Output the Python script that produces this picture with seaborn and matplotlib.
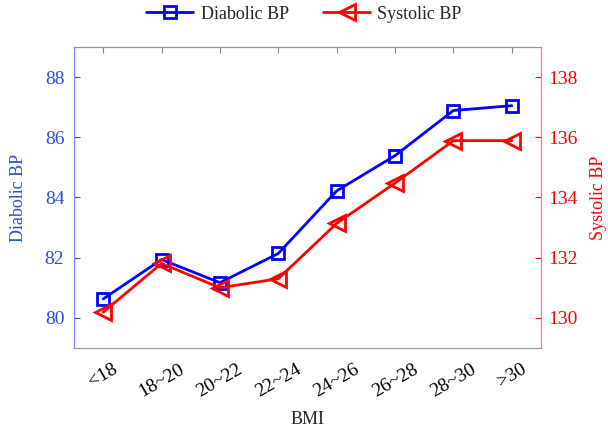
import pandas as pd
import matplotlib
matplotlib.use("Agg")
import matplotlib.pyplot as plt
import seaborn as sns

bmi = ["<18", "18~20", "20~22", "22~24", "24~26", "26~28", "28~30", ">30"]
diabolic = [80.63, 81.94, 81.17, 82.14, 84.22, 85.39, 86.89, 87.05]
systolic = [130.19, 131.81, 131.00, 131.30, 133.14, 134.48, 135.89, 135.89]

sns.set_style("white")
plt.rcParams['font.family'] = ['Liberation Serif', 'DejaVu Serif']

df = pd.DataFrame({"pos": range(len(bmi)), "dia": diabolic, "sys": systolic})

fig = plt.figure(figsize=(6.08, 4.30), dpi=100)
ax = fig.add_axes([0.1217, 0.1907, 0.768, 0.70])
ax2 = ax.twinx()

sns.lineplot(data=df, x="pos", y="dia", ax=ax, color="blue", marker="s",
             markersize=8, markerfacecolor="none", markeredgecolor="blue",
             markeredgewidth=2, linewidth=2, label="Diabolic BP", legend=False)
sns.lineplot(data=df, x="pos", y="sys", ax=ax2, color="red", marker="<",
             markersize=11, markerfacecolor="none", markeredgecolor="red",
             markeredgewidth=2, linewidth=2, label="Systolic BP", legend=False)

ax.set_xlim(-0.5, 7.5)
ax.set_ylim(79, 89)
ax2.set_ylim(129, 139)
ax.set_xticks(range(len(bmi)))
ax.set_xticklabels(bmi, rotation=30, ha="center", fontsize=14)
ax.set_yticks([80, 82, 84, 86, 88])
ax2.set_yticks([130, 132, 134, 136, 138])

ax.set_xlabel("BMI", fontsize=13, labelpad=8)
ax.set_ylabel("Diabolic BP", fontsize=13, color="#2a4de0", labelpad=13)
ax2.set_ylabel("Systolic BP", fontsize=13, color="red", labelpad=9)

ax.tick_params(axis="y", direction="in", colors="#2a4de0", labelsize=14,
               length=4, pad=7)
ax.tick_params(axis="x", direction="in", colors="#888888", labelcolor="black",
               top=True, length=4, pad=9)
ax2.tick_params(axis="y", direction="in", colors="red", labelsize=14,
                length=4, pad=5)

for a in (ax, ax2):
    a.spines["top"].set_color("#999999")
    a.spines["bottom"].set_color("#999999")
    a.spines["left"].set_color("#7f7fff")
    a.spines["right"].set_color("#ff7f7f")
    a.spines["left"].set_visible(True)
    a.spines["right"].set_visible(True)

h1, l1 = ax.get_legend_handles_labels()
h2, l2 = ax2.get_legend_handles_labels()
fig.legend(h1 + h2, l1 + l2, loc="upper center", bbox_to_anchor=(0.5, 1.025),
           ncol=2, frameon=False, fontsize=13, handlelength=2.6,
           handletextpad=0.4, columnspacing=1.9)

fig.savefig("out.png", dpi=100)
